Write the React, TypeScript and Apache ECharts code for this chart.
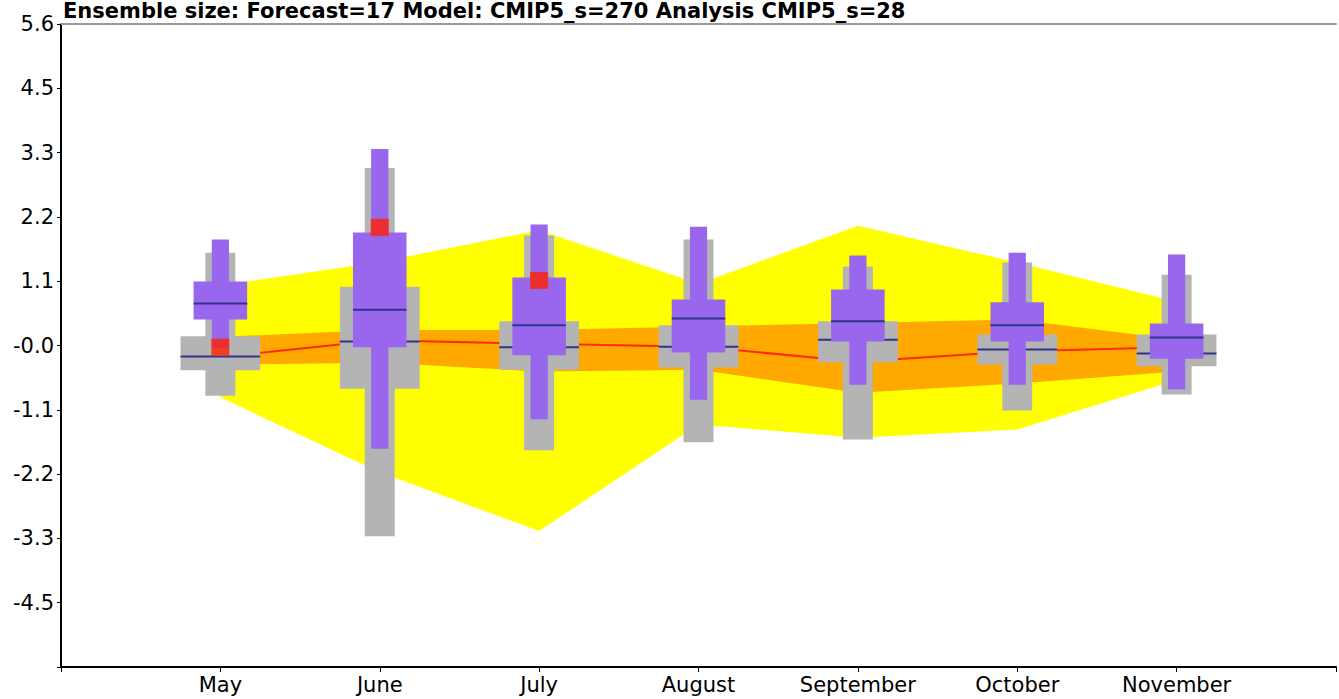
import React, { useEffect, useRef } from "react";
import * as echarts from "echarts";

// Monthly ensemble summary: model (grey), forecast (purple), observations (red)
const months = ["May", "June", "July", "August", "September", "October", "November"];

// Model ensemble: whisker ends, quartile box, median
const modelMin = [-0.87, -3.31, -1.82, -1.68, -1.63, -1.13, -0.85];
const modelQ1 = [-0.43, -0.75, -0.42, -0.38, -0.29, -0.33, -0.36];
const modelMedian = [-0.19, 0.07, -0.03, -0.02, 0.1, -0.07, -0.14];
const modelQ3 = [0.16, 1.02, 0.42, 0.35, 0.42, 0.19, 0.19];
const modelMax = [1.61, 3.08, 1.91, 1.84, 1.37, 1.44, 1.23];

// Forecast ensemble
const fcMin = [-0.05, -1.79, -1.28, -0.94, -0.68, -0.68, -0.76];
const fcQ1 = [0.45, -0.03, -0.17, -0.12, 0.07, 0.07, -0.23];
const fcMedian = [0.73, 0.62, 0.35, 0.47, 0.42, 0.35, 0.14];
const fcQ3 = [1.11, 1.96, 1.18, 0.8, 0.97, 0.75, 0.38];
const fcMax = [1.84, 3.41, 2.1, 2.06, 1.56, 1.61, 1.58];

// Observed value per month (only where available)
const observed: (number | null)[] = [-0.03, 2.05, 1.13, null, null, null, null];

// Analysis median and its spread bands
const analysisMedian = [-0.2, 0.09, 0.03, -0.02, -0.28, -0.1, -0.03];
const spreadUpper = [0.15, 0.27, 0.27, 0.33, 0.39, 0.45, 0.1];
const spreadLower = [-0.33, -0.3, -0.45, -0.42, -0.82, -0.66, -0.45];
const envelopeUpper = [1.04, 1.45, 2.0, 1.07, 2.08, 1.44, 0.76];
const envelopeLower = [-0.9, -2.2, -3.22, -1.37, -1.6, -1.46, -0.6];

const TITLE = "Ensemble size: Forecast=17 Model: CMIP5_s=270 Analysis CMIP5_s=28";

const Y_STEP = 1.116;
const Y_MIN = -5 * Y_STEP;
const Y_MAX = 5 * Y_STEP;

const FONT = "'DejaVu Sans', Verdana, sans-serif";

function bandRenderer(upper: number[], lower: number[], fill: string) {
  return (_params: any, api: any) => {
    const points: number[][] = [];
    upper.forEach((v, i) => points.push(api.coord([i + 1, v])));
    for (let i = lower.length - 1; i >= 0; i--) points.push(api.coord([i + 1, lower[i]]));
    return { type: "polygon", shape: { points }, style: { fill } };
  };
}

function boxRenderer(halfWide: number, halfNarrow: number, fill: string) {
  return (_params: any, api: any) => {
    const x = api.value(0);
    const lo = api.value(1);
    const q1 = api.value(2);
    const med = api.value(3);
    const q3 = api.value(4);
    const hi = api.value(5);
    const rectOf = (x0: number, x1: number, y0: number, y1: number) => {
      const a = api.coord([x0, y1]);
      const b = api.coord([x1, y0]);
      return { x: a[0], y: a[1], width: b[0] - a[0], height: b[1] - a[1] };
    };
    const m0 = api.coord([x - halfWide, med]);
    const m1 = api.coord([x + halfWide, med]);
    return {
      type: "group",
      children: [
        { type: "rect", shape: rectOf(x - halfNarrow, x + halfNarrow, lo, hi), style: { fill } },
        { type: "rect", shape: rectOf(x - halfWide, x + halfWide, q1, q3), style: { fill } },
        {
          type: "line",
          shape: { x1: m0[0], y1: m0[1], x2: m1[0], y2: m1[1] },
          style: { stroke: "#33338a", lineWidth: 2 },
        },
      ],
    };
  };
}

export default function App() {
  const ref = useRef<HTMLDivElement>(null);

  useEffect(() => {
    if (!ref.current) return;
    const chart = echarts.init(ref.current, undefined, { renderer: "svg" });

    const modelData = months.map((_, i) => [i + 1, modelMin[i], modelQ1[i], modelMedian[i], modelQ3[i], modelMax[i]]);
    const fcData = months.map((_, i) => [i + 1, fcMin[i], fcQ1[i], fcMedian[i], fcQ3[i], fcMax[i]]);
    const obsData = observed
      .map((v, i) => (v === null ? null : [i + 1, v]))
      .filter((d) => d !== null);

    chart.setOption({
      animation: false,
      backgroundColor: "#ffffff",
      grid: { left: 61, top: 24, width: 1293, height: 643, containLabel: false },
      graphic: [
        {
          type: "text",
          left: 63,
          top: 0,
          style: {
            text: TITLE,
            fill: "#000",
            font: `bold 21px ${FONT}`,
          },
        },
      ],
      xAxis: [
        {
          type: "value",
          min: 0,
          max: 8,
          interval: 1,
          position: "bottom",
          splitLine: { show: false },
          axisLine: { show: true, onZero: false, lineStyle: { color: "#000", width: 2 } },
          axisTick: { show: true, length: 5, lineStyle: { color: "#000", width: 1 } },
          axisLabel: {
            margin: 7,
            color: "#000",
            fontSize: 21,
            fontFamily: FONT,
            formatter: (v: number) => months[Math.round(v) - 1] ?? "",
          },
        },
        {
          type: "value",
          min: 0,
          max: 8,
          position: "top",
          splitLine: { show: false },
          axisLine: { show: true, onZero: false, lineStyle: { color: "#9a9a9a", width: 2 } },
          axisTick: { show: false },
          axisLabel: { show: false },
        },
      ],
      yAxis: {
        type: "value",
        min: Y_MIN,
        max: Y_MAX,
        interval: Y_STEP,
        splitLine: { show: false },
        axisLine: { show: true, onZero: false, lineStyle: { color: "#000", width: 2 } },
        axisTick: { show: true, length: 4, lineStyle: { color: "#000", width: 1 } },
        axisLabel: {
          margin: 7,
          color: "#000",
          fontSize: 21,
          fontFamily: FONT,
          formatter: (v: number) => {
            if (v < Y_MIN + 0.01) return "";
            if (Math.abs(v) < 1e-6) return "-0.0";
            return v.toFixed(1);
          },
        },
      },
      series: [
        {
          type: "custom",
          name: "envelope",
          z: 1,
          silent: true,
          renderItem: bandRenderer(envelopeUpper, envelopeLower, "#ffff00"),
          data: [[1, 0]],
          encode: { x: 0, y: 1 },
        },
        {
          type: "custom",
          name: "spread",
          z: 2,
          silent: true,
          renderItem: bandRenderer(spreadUpper, spreadLower, "#ffa800"),
          data: [[1, 0]],
          encode: { x: 0, y: 1 },
        },
        {
          type: "line",
          name: "analysis",
          z: 3,
          data: analysisMedian.map((v, i) => [i + 1, v]),
          symbol: "none",
          lineStyle: { color: "#ff2a00", width: 2 },
        },
        {
          type: "custom",
          name: "model",
          z: 4,
          renderItem: boxRenderer(0.25, 0.094, "#b4b4b4"),
          data: modelData,
          encode: { x: 0, y: [1, 2, 3, 4, 5] },
        },
        {
          type: "custom",
          name: "forecast",
          z: 5,
          renderItem: boxRenderer(0.168, 0.054, "#9966ee"),
          data: fcData,
          encode: { x: 0, y: [1, 2, 3, 4, 5] },
        },
        {
          type: "scatter",
          name: "observed",
          z: 6,
          symbol: "rect",
          symbolSize: [18, 17],
          itemStyle: { color: "#ff2200" },
          data: obsData,
        },
      ],
    });

    return () => chart.dispose();
  }, []);

  return (
    <div
      ref={ref}
      style={{ position: "fixed", left: 0, top: 0, width: 1339, height: 699, background: "#fff" }}
    />
  );
}
